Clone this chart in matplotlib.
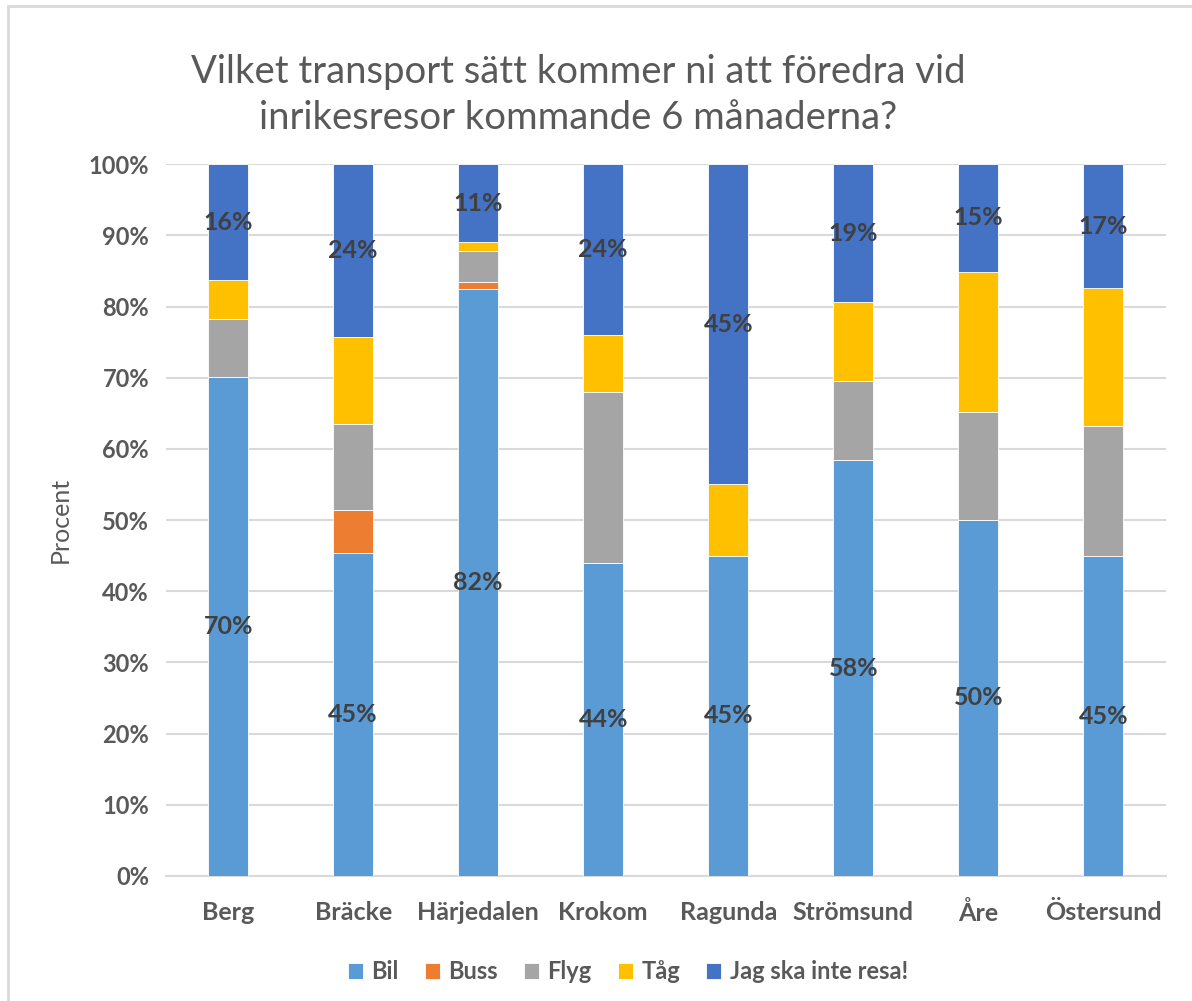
import numpy as np
import matplotlib.pyplot as plt
from matplotlib.patches import Rectangle
from matplotlib.ticker import PercentFormatter

plt.rcParams['font.family'] = ['Lato', 'DejaVu Sans']

# data (percent of answers per municipality)
kommuner = ['Berg', 'Bräcke', 'Härjedalen', 'Krokom', 'Ragunda', 'Strömsund', 'Åre', 'Östersund']
bil = [70.1, 45.4, 82.4, 44.0, 45.0, 58.4, 50.0, 44.9]
buss = [0.0, 6.0, 1.0, 0.0, 0.0, 0.0, 0.0, 0.0]
flyg = [8.1, 12.1, 4.4, 24.0, 0.0, 11.1, 15.2, 18.3]
tag = [5.5, 12.2, 1.2, 8.0, 10.0, 11.1, 19.7, 19.4]
jag = [16.3, 24.3, 11.0, 24.0, 45.0, 19.4, 15.1, 17.4]

series = [('Bil', bil, '#5B9BD5'), ('Buss', buss, '#ED7D31'), ('Flyg', flyg, '#A5A5A5'),
          ('Tåg', tag, '#FFC000'), ('Jag ska inte resa!', jag, '#4472C4')]

fig = plt.figure(figsize=(11.92, 10.01), dpi=100)
ax = fig.add_axes([0.139, 0.125, 0.839, 0.711])

# chart border
fig.patches.append(Rectangle((0.007, -0.01), 1.0, 1.004, transform=fig.transFigure,
                             fill=False, edgecolor='#D9D9D9', linewidth=2))

x = np.arange(len(kommuner))
bottom = np.zeros(len(kommuner))
for name, vals, color in series:
    vals = np.array(vals)
    ax.bar(x, vals, 0.32, bottom=bottom, color=color, label=name,
           edgecolor='white', linewidth=0.6, zorder=3)
    if name in ('Bil', 'Jag ska inte resa!'):
        for xi, b, v in zip(x, bottom, vals):
            ax.text(xi, b + v / 2, f'{v:.0f}%', ha='center', va='center',
                    fontsize=18, fontweight='bold', color='#404040', zorder=4)
    bottom += vals

ax.set_xlim(-0.5, len(kommuner) - 0.5)
ax.set_ylim(0, 100)
ax.set_yticks(np.arange(0, 101, 10))
ax.yaxis.set_major_formatter(PercentFormatter(decimals=0))
ax.set_xticks(x)
ax.set_xticklabels(kommuner)
ax.grid(axis='y', color='#D9D9D9', linewidth=1.5, zorder=0)
for s in ['top', 'right', 'left']:
    ax.spines[s].set_visible(False)
ax.spines['bottom'].set_color('#D9D9D9')
ax.spines['bottom'].set_linewidth(1.5)
ax.tick_params(length=0, labelsize=17, labelcolor='#595959', pad=12)
ax.tick_params(axis='x', labelsize=18, pad=18)
for lab in ax.get_xticklabels() + ax.get_yticklabels():
    lab.set_fontweight('bold')

ax.set_ylabel('Procent', fontsize=18, color='#595959', labelpad=12)

fig.text(0.485, 0.905, 'Vilket transport sätt kommer ni att föredra vid\ninrikesresor kommande 6 månaderna?',
         ha='center', va='center', fontsize=27.5, color='#595959', linespacing=1.35)

leg = ax.legend(loc='center', bbox_to_anchor=(0.462, -0.135), ncol=5, frameon=False,
                fontsize=17, handlelength=0.65, handleheight=0.65, handletextpad=0.35, columnspacing=1.1)
for t in leg.get_texts():
    t.set_color('#595959')
    t.set_fontweight('bold')

fig.savefig('out.png', dpi=100)
